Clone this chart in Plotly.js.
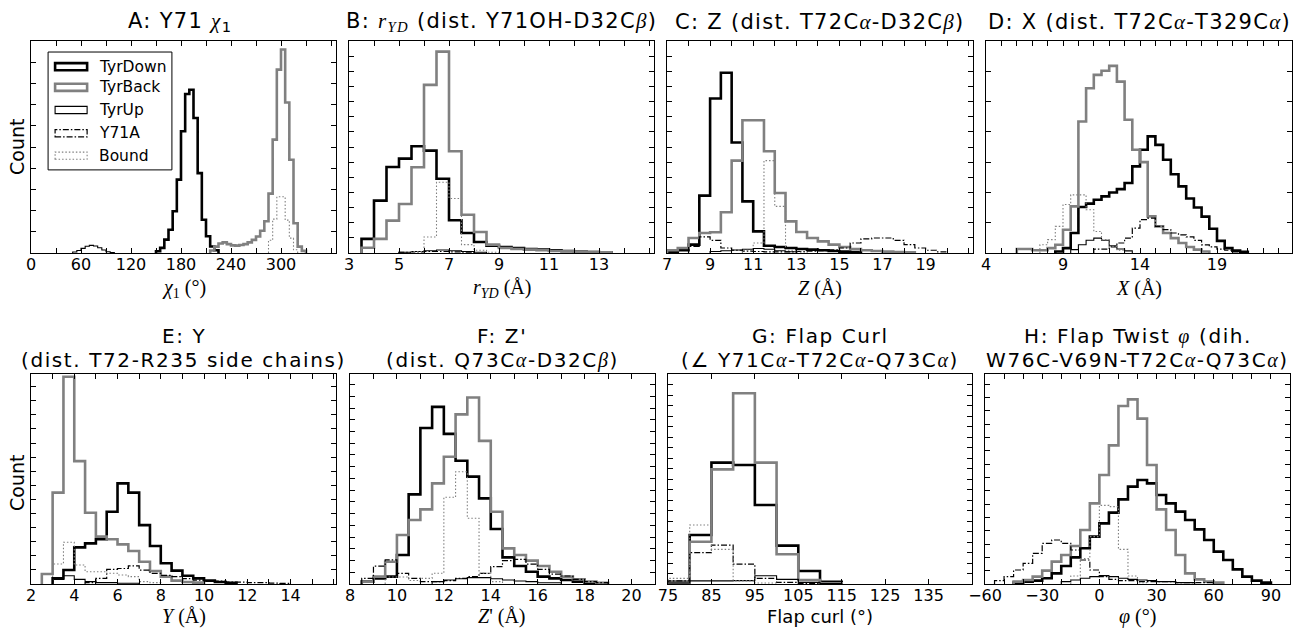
<!DOCTYPE html>
<html>
<head>
<meta charset="utf-8">
<script src="https://cdn.plot.ly/plotly-3.0.1.min.js"></script>
<style>html,body{margin:0;padding:0;background:#fff;}#chart{width:1296px;height:629px;}</style>
</head>
<body>
<div id="chart"></div>
<script>
// ---------------- DATA (counts in arbitrary units) ----------------
// Panel A: Y71 chi1 (deg), 5 deg bins
const A_width = 5;
const A_down_from = 150, A_down = [0.08,0.24,0.63,1.1,1.97,3.46,5.74,7.5,7.7,6.37,3.77,1.57,0.79,0.31,0.13];
const A_back_from = 215, A_back = [0.12,0.3,0.45,0.5,0.42,0.36,0.35,0.38,0.42,0.5,0.62,0.78,1.05,1.5,2.8,5.35,8.65,9.6,7.1,4.4,1.4,0.3,0.1];
const A_up_from = 50, A_up = [0.05,0.12,0.22,0.32,0.36,0.33,0.25,0.14,0.06,0.02];
const A_y71a_from = 0, A_y71a = [];
const A_bound_from = 285, A_bound = [0.6,1.6,2.65,2.65,1.55,0.7,0.15];
const A_ticks = [0,30,60,90,120,150,180,210,240,270,300,330,360];
const A_labels = [0,60,120,180,240,300];

// Panel B: r_YD (A), 0.5 A bins
const B_width = 0.5;
const B_down_from = 3.5, B_down = [0.93,3.46,5.68,6.23,7.05,6.76,4.9,2.16,1.32,0.73,0.48,0.4,0.33,0.26,0.22,0.18,0.13,0.09,0.07,0.04];
const B_back_from = 3.5, B_back = [0.35,0.93,2.14,3.24,5.66,11.1,13.3,6.72,2.53,1.39,0.55,0.33,0.26,0.22,0.18,0.13,0.11,0.09,0.07,0.04];
const B_up_from = 5.0, B_up = [0.05,0.1,0.15,0.2,0.15,0.1,0.05];
const B_y71a_from = 5.0, B_y71a = [0.05,0.08,0.1,0.1,0.08,0.05];
const B_bound_from = 5.5, B_bound = [0.1,1.06,4.67,3.6,0.55,0.18,0.05];
const B_ticks = [3,4,5,6,7,8,9,10,11,12,13,14,15];
const B_labels = [3,5,7,9,11,13];

// Panel C: Z (A), 0.5 A bins
const C_width = 0.5;
const C_down_from = 7.0, C_down = [0.07,0.18,0.55,3.79,10.2,11.9,7.3,3.41,1.43,0.48,0.4,0.33,0.26,0.22,0.18,0.13,0.09,0.07];
const C_back_from = 7.0, C_back = [0.18,0.33,0.99,1.32,1.37,2.69,6.1,8.77,8.77,6.72,3.96,2.09,1.39,0.99,0.77,0.55,0.4,0.26,0.18,0.13,0.09,0.07,0.04];
const C_up_from = 9.0, C_up = [0.1,0.15,0.2,0.25,0.3,0.25,0.15,0.08];
const C_y71a_from = 8.0, C_y71a = [0.44,1.06,0.84,0.33,0.18,0.12,0.1,0.08,0.08,0.08,0.1,0.12,0.15,0.2,0.33,0.66,0.93,0.99,0.99,0.84,0.55,0.33,0.18,0.07];
const C_bound_from = 10.5, C_bound = [0.18,0.66,6.1,3.08,0.18,0.05];
const C_ticks = [7,8,9,10,11,12,13,14,15,16,17,18,19,20,21];
const C_labels = [7,9,11,13,15,17,19];

// Panel D: X (A), 0.5 A bins
const D_width = 0.5;
const D_down_from = 8.5, D_down = [0.05,0.16,0.66,1.52,1.63,1.76,1.87,2.0,2.11,2.31,2.86,3.41,3.85,3.57,3.08,2.6,2.2,1.8,1.5,1.2,0.8,0.4,0.16,0.08,0.04];
const D_back_from = 6.0, D_back = [0.13,0.13,0.09,0.09,0.16,0.27,0.77,1.54,4.34,5.44,5.88,6.02,6.18,5.66,4.4,3.41,3.0,1.21,0.88,0.66,0.49,0.33,0.2,0.11,0.05];
const D_up_from = 9.5, D_up = [0.11,0.27,0.42,0.49,0.42,0.24,0.13,0.07];
const D_y71a_from = 11.0, D_y71a = [0.13,0.13,0.2,0.33,0.49,0.82,1.1,1.15,0.88,0.77,0.66,0.6,0.53,0.42,0.27,0.2,0.13,0.09,0.04,0.04];
const D_bound_from = 7.5, D_bound = [0.27,0.44,0.88,1.6,1.92,1.92,1.43,0.71,0.44,0.22,0.09];
const D_ticks = [4,5,6,7,8,9,10,11,12,13,14,15,16,17,18,19,20,21,22,23];
const D_labels = [4,9,14,19];

// Panel E: Y (A), 0.5 A bins
const E_width = 0.5;
const E_down_from = 3.0, E_down = [0.4,0.99,2.6,2.88,3.17,5.13,7.14,6.48,4.18,2.7,1.47,0.95,0.59,0.4,0.24,0.14,0.08];
const E_back_from = 2.5, E_back = [0.71,6.48,14.7,8.72,5.06,3.36,3.17,2.81,2.34,1.58,0.92,0.52,0.24,0.14,0.1];
const E_up_from = 3.0, E_up = [0.33,0.59,0.33,0.17,0.1,0.1,0.05,0.05];
const E_y71a_from = 4.5, E_y71a = [0.1,0.4,1.04,1.1,1.28,0.99,0.76,0.61,0.52,0.38,0.28,0.24,0.2,0.14,0.14,0.1,0.1,0.06,0.05];
const E_bound_from = 3.0, E_bound = [1.42,2.96,1.35,0.87,0.87,0.76,0.64,0.52,0.17,0.1];
const E_ticks = [2,3,4,5,6,7,8,9,10,11,12,13,14,15,16];
const E_labels = [2,4,6,8,10,12,14];

// Panel F: Z' (A), 0.5 A bins
const F_width = 0.5;
const F_down_from = 8.5, F_down = [0.2,0.48,0.63,2.47,7.64,13.3,15.1,12.8,10.5,9.15,7.3,4.69,2.27,1.53,1.05,0.63,0.48,0.34,0.2,0.11];
const F_back_from = 8.5, F_back = [0.2,0.63,1.9,4.18,5.45,6.36,8.58,10.85,14.46,15.9,12.2,6.16,3.04,2.47,1.99,1.53,1.05,0.63,0.4,0.2,0.11];
const F_up_from = 11.5, F_up = [0.2,0.34,0.45,0.54,0.54,0.45,0.34,0.25,0.2,0.11,0.11];
const F_y71a_from = 8.5, F_y71a = [0.48,1.53,2.05,0.91,0.48,0.2,0.2,0.28,0.48,0.63,0.91,1.48,1.99,2.1,1.7,1.25,0.85,0.68,0.4,0.2,0.11];
const F_bound_from = 9.5, F_bound = [0.6,0.6,0.3,0.48,0.91,7.39,9.57,5.6,0.91,0.2];
const F_ticks = [8,9,10,11,12,13,14,15,16,17,18,19,20,21];
const F_labels = [8,10,12,14,16,18,20];

// Panel G: flap curl (deg), 5 deg bins
const G_width = 5;
const G_down_from = 75, G_down = [0.22,4.67,11.56,11.33,7.52,3.65,1.24,0.22];
const G_back_from = 75, G_back = [0.13,4.03,10.92,18.16,11.56,2.83,0.38,0.06];
const G_up_from = 75, G_up = [0.1,0.3,0.3,0.32,0.79,0.44,0.15,0.05];
const G_y71a_from = 75, G_y71a = [0.3,2.98,3.71,1.9,0.54,0.15,0.05];
const G_bound_from = 75, G_bound = [0.54,5.62,3.3,0.3,0.1];
const G_ticks = [75,85,95,105,115,125,135,145];
const G_labels = [75,85,95,105,115,125,135];

// Panel H: flap twist phi (deg), 5 deg bins
const H_width = 5;
const H_down_from = -45, H_down = [0.1,0.18,0.25,0.43,0.8,1.35,2.0,2.68,3.55,4.55,5.35,6.35,7.3,7.8,7.55,6.68,6.05,5.43,4.8,4.1,3.3,2.43,1.8,1.1,0.55,0.25,0.1];
const H_back_from = -45, H_back = [0.18,0.3,0.55,1.0,1.68,2.18,2.85,4.05,6.05,8.18,10.4,13.35,13.85,12.4,8.93,5.6,4.05,2.18,0.8,0.35,0.18,0.1];
const H_up_from = -20, H_up = [0.18,0.3,0.43,0.55,0.63,0.55,0.43,0.35,0.3,0.25,0.18,0.18,0.1,0.1];
const H_y71a_from = -55, H_y71a = [0.25,0.55,1.05,1.55,2.3,3.05,3.3,3.05,2.55,1.8,1.05,0.55,0.35,0.25,0.25,0.18,0.18,0.18,0.18,0.1,0.1,0.1,0.1];
const H_bound_from = -15, H_bound = [0.6,1.9,3.55,5.9,5.8,2.6,0.6,0.1];
const H_ticks = [-60,-50,-40,-30,-20,-10,0,10,20,30,40,50,60,70,80,90,100];
const H_labels = [-60,-30,0,30,60,90];

const seriesNames = ['TyrDown','TyrBack','TyrUp','Y71A','Bound'];

// ---------------- STYLE / LAYOUT ----------------
const GRAY = '#808080';
const lineStyles = {
  TyrDown: {color:'#000000', width:2.6},
  TyrBack: {color:GRAY, width:2.6},
  TyrUp:   {color:'#000000', width:1.1},
  Y71A:    {color:'#000000', width:1.2, dash:'6px,2px,1.5px,2px'},
  Bound:   {color:GRAY, width:1.1, dash:'1.5px,2px'}
};
const W = 1296, Hh = 629;
const SANS = 'DejaVu Sans';
const SERIF = 'Liberation Serif';
const m = s => '<span style="font-family:' + SERIF + '"><i>' + s + '</i></span>';
const wide = (s, ls) => '<span style="letter-spacing:' + (ls || 1.3) + 'px">' + s + '</span>';

// panel geometry in pixels: [left, right, top, bottom]
const panels = [
  {key:'A', data:[[A_down_from,A_down],[A_back_from,A_back],[A_up_from,A_up],[A_y71a_from,A_y71a],[A_bound_from,A_bound]], w:A_width, ticks:A_ticks, labels:A_labels, xr:[0,366], ymax:10, px:[31,336,41,253]},
  {key:'B', data:[[B_down_from,B_down],[B_back_from,B_back],[B_up_from,B_up],[B_y71a_from,B_y71a],[B_bound_from,B_bound]], w:B_width, ticks:B_ticks, labels:B_labels, xr:[3,15.2], ymax:14, px:[349,654,41,253]},
  {key:'C', data:[[C_down_from,C_down],[C_back_from,C_back],[C_up_from,C_up],[C_y71a_from,C_y71a],[C_bound_from,C_bound]], w:C_width, ticks:C_ticks, labels:C_labels, xr:[7,21.2], ymax:14, px:[667,973,41,253]},
  {key:'D', data:[[D_down_from,D_down],[D_back_from,D_back],[D_up_from,D_up],[D_y71a_from,D_y71a],[D_bound_from,D_bound]], w:D_width, ticks:D_ticks, labels:D_labels, xr:[4,23.87], ymax:7, px:[986,1292,41,253]},
  {key:'E', data:[[E_down_from,E_down],[E_back_from,E_back],[E_up_from,E_up],[E_y71a_from,E_y71a],[E_bound_from,E_bound]], w:E_width, ticks:E_ticks, labels:E_labels, xr:[2,16.1], ymax:14.9, px:[31,336,374,584]},
  {key:'F', data:[[F_down_from,F_down],[F_back_from,F_back],[F_up_from,F_up],[F_y71a_from,F_y71a],[F_bound_from,F_bound]], w:F_width, ticks:F_ticks, labels:F_labels, xr:[8,21], ymax:17.9, px:[350,655,374,584]},
  {key:'G', data:[[G_down_from,G_down],[G_back_from,G_back],[G_up_from,G_up],[G_y71a_from,G_y71a],[G_bound_from,G_bound]], w:G_width, ticks:G_ticks, labels:G_labels, xr:[75,145], ymax:20, px:[668,972,374,584]},
  {key:'H', data:[[H_down_from,H_down],[H_back_from,H_back],[H_up_from,H_up],[H_y71a_from,H_y71a],[H_bound_from,H_bound]], w:H_width, ticks:H_ticks, labels:H_labels, xr:[-60,100], ymax:15.75, px:[985,1290,374,584]}
];

function stepXY(from, width, counts) {
  const x = [from], y = [0];
  counts.forEach((c, i) => { x.push(from + i * width); y.push(c); });
  x.push(from + counts.length * width); y.push(0);
  return {x, y};
}
function fmt(v) { return v < 0 ? '\u2212' + Math.abs(v) : String(v); }

const traces = [];
const layout = {
  width: W, height: Hh,
  margin: {l:0, r:0, t:0, b:0},
  paper_bgcolor: '#ffffff', plot_bgcolor: '#ffffff',
  showlegend: false,
  font: {family: SANS, color: '#000'},
  annotations: [], shapes: []
};

panels.forEach((p, i) => {
  const n = i + 1;
  const xa = n === 1 ? 'x' : 'x' + n, ya = n === 1 ? 'y' : 'y' + n;
  p.data.forEach((s, k) => {
    if (!s[1].length) return;
    const st = stepXY(s[0], p.w, s[1]);
    traces.push({type:'scatter', mode:'lines', x:st.x, y:st.y, xaxis:xa, yaxis:ya,
      name:seriesNames[k], line:Object.assign({shape:'hv'}, lineStyles[seriesNames[k]]), hoverinfo:'skip'});
  });
  const [l, r, t, b] = p.px;
  layout['xaxis' + (n === 1 ? '' : n)] = {
    domain:[l / W, r / W], range:p.xr, anchor:ya,
    tickmode:'array', tickvals:p.ticks, ticktext:p.ticks.map(v => p.labels.includes(v) ? fmt(v) : ''),
    ticks:'inside', ticklen:5, tickwidth:1, tickcolor:'#000', ticklabelstandoff:-3,
    showline:true, linecolor:'#000', linewidth:1, mirror:'ticks',
    showgrid:false, zeroline:false, fixedrange:true,
    tickfont:{family:SANS, size:16, color:'#000'}
  };
  layout['yaxis' + (n === 1 ? '' : n)] = {
    domain:[1 - b / Hh, 1 - t / Hh], range:[0, p.ymax], anchor:xa,
    tick0:0, dtick:1, ticks:'inside', ticklen:5, tickwidth:1, tickcolor:'#000',
    showticklabels:false, showline:true, linecolor:'#000', linewidth:1, mirror:'ticks',
    showgrid:false, zeroline:false, fixedrange:true
  };
});

// ---------------- TEXT ----------------
const titleFont = {family:SANS, size:21, color:'#000'};
const title2Font = {family:SANS, size:20, color:'#000'};
function ann(text, xpx, ypx, font, extra) {
  layout.annotations.push(Object.assign({text, x:xpx / W, y:1 - ypx / Hh, xref:'paper', yref:'paper',
    showarrow:false, xanchor:'center', yanchor:'middle', font}, extra || {}));
}
const cx = p => (p.px[0] + p.px[1]) / 2;
// top row titles
ann(wide('A: Y71 ' + m('χ') + '<sub>1</sub>'), cx(panels[0]) - 4, 22, titleFont);
ann(wide('B: ' + m('r') + '<sub>' + m('YD') + '</sub> (dist. Y71OH-D32C' + m('β') + ')'), cx(panels[1]), 22, titleFont);
ann(wide('C: Z (dist. T72C' + m('α') + '-D32C' + m('β') + ')'), cx(panels[2]), 22, titleFont);
ann(wide('D: X (dist. T72C' + m('α') + '-T329C' + m('α') + ')'), cx(panels[3]), 22, titleFont);
// bottom row titles (two lines)
const L1 = 336, L2 = 360;
ann(wide('E: Y', 1.6), cx(panels[4]), L1, title2Font);
ann(wide('(dist. T72-R235 side chains)', 1.6), cx(panels[4]), L2, title2Font);
ann(wide("F: Z'", 1.6), cx(panels[5]), L1, title2Font);
ann(wide('(dist. Q73C' + m('α') + '-D32C' + m('β') + ')', 1.6), cx(panels[5]), L2, title2Font);
ann(wide('G: Flap Curl', 1.6), cx(panels[6]), L1, title2Font);
ann(wide('(∠ Y71C' + m('α') + '-T72C' + m('α') + '-Q73C' + m('α') + ')', 1.6), cx(panels[6]), L2, title2Font);
ann(wide('H: Flap Twist ' + m('φ') + ' (dih.', 1.6), cx(panels[7]), L1, title2Font);
ann(wide('W76C-V69N-T72C' + m('α') + '-Q73C' + m('α') + ')', 1.6), cx(panels[7]), L2, title2Font);

// axis titles
const axFont = {family:SERIF, size:20, color:'#000'};
ann('<i>χ</i><sub>1</sub> (°)', cx(panels[0]), 288, axFont);
ann('<i>r</i><sub><i>YD</i></sub> (Å)', cx(panels[1]), 288, axFont);
ann('<i>Z</i> (Å)', cx(panels[2]), 288, axFont);
ann('<i>X</i> (Å)', cx(panels[3]), 288, axFont);
ann('<i>Y</i> (Å)', cx(panels[4]), 616, axFont);
ann("<i>Z</i>' (Å)", cx(panels[5]), 616, axFont);
ann('Flap curl (°)', cx(panels[6]), 616, {family:SANS, size:18, color:'#000'});
ann('<i>φ</i> (°)', cx(panels[7]), 616, axFont);
ann('Count', 17, 147, {family:SANS, size:19, color:'#000'}, {textangle:-90});
ann('Count', 17, 483, {family:SANS, size:19, color:'#000'}, {textangle:-90});

// ---------------- LEGEND (panel A, drawn as patches like matplotlib) ----------------
layout.shapes.push({type:'rect', xref:'x domain', yref:'y domain', x0:0.056, x1:0.462, y0:0.392, y1:0.948,
  line:{color:'#000', width:1}, fillcolor:'#ffffff', layer:'above'});
const legRows = [66.7, 87.3, 110, 133.3, 155.7];
seriesNames.forEach((nm, k) => {
  const yc = (253 - legRows[k]) / 212, hh = 3.6 / 212;
  const ls = lineStyles[nm];
  layout.shapes.push({type:'rect', xref:'x domain', yref:'y domain', x0:0.079, x1:0.184, y0:yc - hh, y1:yc + hh,
    line:{color:ls.color, width:ls.width, dash:ls.dash || 'solid'}, fillcolor:'rgba(0,0,0,0)', layer:'above'});
  layout.annotations.push({text:nm, xref:'x domain', yref:'y domain', x:0.215, y:yc, xanchor:'left', yanchor:'middle',
    showarrow:false, font:{family:SANS, size:15.5, color:'#000'}});
});

Plotly.newPlot('chart', traces, layout, {staticPlot:true, displayModeBar:false});
</script>
</body>
</html>
